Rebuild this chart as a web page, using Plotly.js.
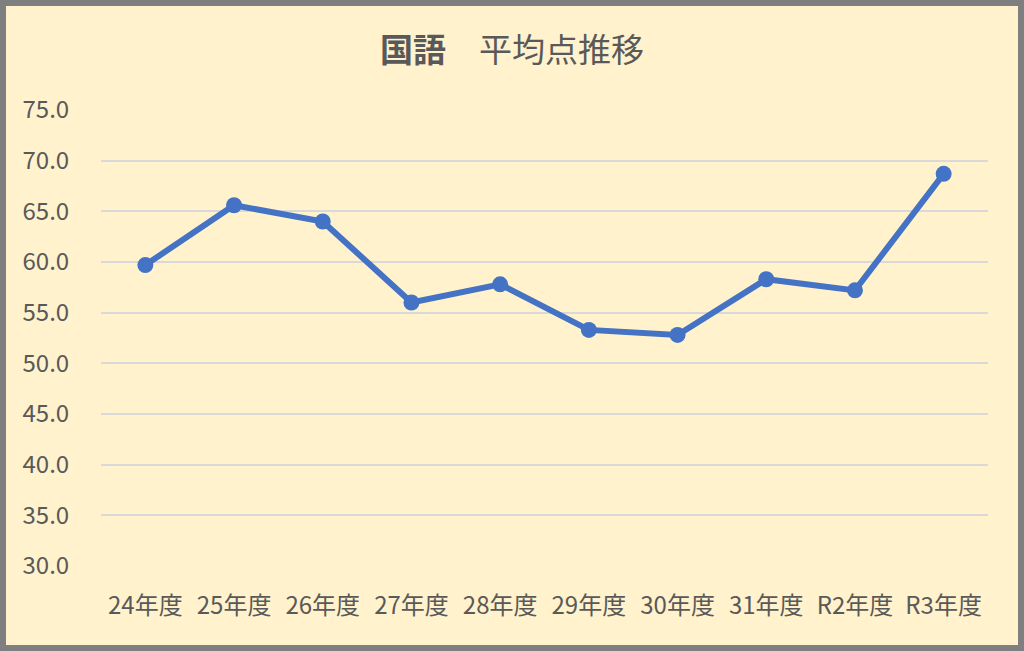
<!DOCTYPE html>
<html>
<head>
<meta charset="utf-8">
<script src="https://cdn.plot.ly/plotly-3.0.1.min.js"></script>
<style>
  html, body { margin: 0; padding: 0; background: #ffffff; }
  #frame {
    width: 1024px; height: 651px; box-sizing: border-box;
    border: 6px solid #7f7f7f; background: #fff2cc;
  }
  #chart { width: 1012px; height: 639px; }
</style>
</head>
<body>
<div id="frame"><div id="chart"></div></div>
<script>
  // 年度ごとの国語平均点
  var years = ["24年度", "25年度", "26年度", "27年度", "28年度", "29年度", "30年度", "31年度", "R2年度", "R3年度"];
  var scores = [59.7, 65.6, 64.0, 56.0, 57.8, 53.3, 52.8, 58.3, 57.2, 68.7];
  var yTicks = [30, 35, 40, 45, 50, 55, 60, 65, 70, 75];
  var yTickText = yTicks.map(function (v) { return v.toFixed(1); });

  var font = '"Noto Sans CJK JP", "Noto Sans", sans-serif';

  Plotly.newPlot(
    "chart",
    [
      {
        x: years,
        y: scores,
        type: "scatter",
        mode: "lines+markers",
        line: { color: "#4472c4", width: 6 },
        marker: { color: "#4472c4", size: 16 },
        hoverinfo: "x+y",
      },
    ],
    {
      width: 1012,
      height: 639,
      margin: { l: 95, r: 30, t: 104, b: 79 },
      paper_bgcolor: "#fff2cc",
      plot_bgcolor: "#fff2cc",
      font: { family: font, size: 24, color: "#595959" },
      title: {
        text: "<b>国語</b>　平均点推移",
        font: { family: font, size: 33, color: "#595959" },
        x: 0.5,
        xanchor: "center",
        y: 0.93,
        yanchor: "middle",
      },
      xaxis: {
        type: "category",
        range: [-0.5, 9.5],
        showgrid: false,
        zeroline: false,
        showline: false,
        ticks: "outside",
        ticklen: 18,
        tickcolor: "rgba(0,0,0,0)",
        tickfont: { family: font, size: 24, color: "#595959" },
      },
      yaxis: {
        range: [30, 75],
        tickvals: yTicks,
        ticktext: yTickText,
        showgrid: true,
        gridcolor: "#d9d9d9",
        gridwidth: 2,
        zeroline: false,
        showline: false,
        ticks: "outside",
        ticklen: 26,
        tickcolor: "rgba(0,0,0,0)",
        tickfont: { family: font, size: 24, color: "#595959" },
      },
      showlegend: false,
    },
    { displayModeBar: false, staticPlot: true }
  );
</script>
</body>
</html>
